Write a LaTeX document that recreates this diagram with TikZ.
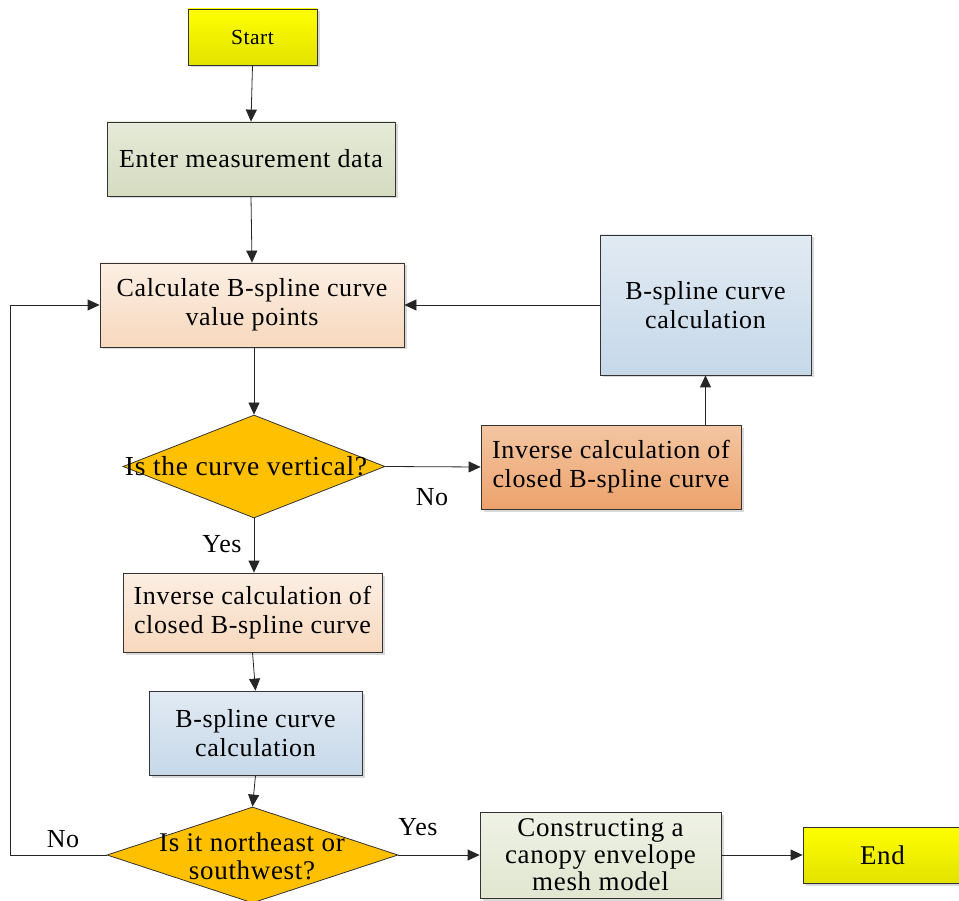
\documentclass[tikz,border=0pt]{standalone}
\usepackage{fontspec}
\setmainfont[LetterSpace=2.5]{Liberation Serif}
\usetikzlibrary{shapes.geometric,arrows.meta,shadows}
\definecolor{yelT}{HTML}{FFFF00}
\definecolor{yelB}{HTML}{E2E200}
\definecolor{grnT}{HTML}{E6EAD8}
\definecolor{grnB}{HTML}{D5DCC0}
\definecolor{pchT}{HTML}{FCEFE4}
\definecolor{pchB}{HTML}{F7D8BD}
\definecolor{bluT}{HTML}{E1EAF3}
\definecolor{bluB}{HTML}{C6D8E9}
\definecolor{orgT}{HTML}{F3C6A2}
\definecolor{orgB}{HTML}{EDA26C}
\definecolor{lgT}{HTML}{EFF2E6}
\definecolor{lgB}{HTML}{E0E6D0}
\definecolor{dia}{HTML}{FFC000}
\begin{document}
\begin{tikzpicture}[x=1pt,y=-1pt,
  box/.style={rectangle, draw=black!80, line width=0.8pt, inner sep=0pt, align=center,
    font=\fontsize{26}{29}\selectfont,
    drop shadow={shadow xshift=2.5pt, shadow yshift=-2.5pt, fill=black!15, opacity=1}},
  yelbox/.style={box, top color=yelT, bottom color=yelB},
  grnbox/.style={box, top color=grnT, bottom color=grnB},
  pchbox/.style={box, top color=pchT, bottom color=pchB},
  blubox/.style={box, top color=bluT, bottom color=bluB},
  orgbox/.style={box, top color=orgT, bottom color=orgB},
  lgbox/.style={box, top color=lgT, bottom color=lgB},
  dec/.style={diamond, draw=black!80, line width=0.8pt, fill=dia, inner sep=0pt},
  dtext/.style={align=center, inner sep=0pt},
  lbl/.style={inner sep=0pt, font=\fontsize{26}{29}\selectfont},
  arr/.style={draw=black!85, line width=0.8pt, -{Triangle[length=12pt,width=11pt]}},
  ln/.style={draw=black!85, line width=0.8pt}
]
\useasboundingbox (0,0) rectangle (959,901);

\node[yelbox, minimum width=129, minimum height=56, font=\fontsize{21.5}{24}\selectfont] (start) at (252.5,37) {Start};
\node[grnbox, minimum width=288, minimum height=74] (enter) at (251,159) {Enter measurement data};
\node[pchbox, minimum width=304, minimum height=84] (calc) at (252,305) {Calculate B-spline curve\\value points};
\node[blubox, minimum width=211, minimum height=140] (br) at (705.5,305) {B-spline curve\\calculation};
\node[dec, minimum width=262, minimum height=103] (d1) at (254,466.5) {};
\node[dtext, font=\fontsize{27.5}{29}\selectfont] (d1t) at (246,466) {Is the curve vertical?};
\node[orgbox, minimum width=260, minimum height=84] (ir) at (611,467) {Inverse calculation of\\closed B-spline curve};
\node[pchbox, minimum width=259, minimum height=79] (il) at (252.5,612.5) {Inverse calculation of\\closed B-spline curve};
\node[blubox, minimum width=213, minimum height=84] (bl) at (255.5,733) {B-spline curve\\calculation};
\node[dec, minimum width=291, minimum height=96] (d2) at (252.5,855) {};
\node[dtext, font=\fontsize{27}{28}\selectfont] (d2t) at (252,856) {Is it northeast or\\southwest?};
\node[lgbox, minimum width=241, minimum height=86, font=\fontsize{27}{27}\selectfont] (con) at (600.5,855) {Constructing a\\canopy envelope\\mesh model};
\node[yelbox, minimum width=159, minimum height=56, font=\fontsize{27}{29}\selectfont] (end) at (882.5,855) {End};

\node[lbl] (no1) at (432,497) {No};
\node[lbl] (yes1) at (222,544) {Yes};
\node[lbl] (no2) at (63,839) {No};
\node[lbl] (yes2) at (418,827) {Yes};

\coordinate (lp) at (10,855);

\draw[arr] (start.south) -- (enter.north);
\draw[arr] (enter.south) -- (calc.north);
\draw[arr] (d1.north |- calc.south) -- (d1.north);
\draw[arr] (d1.east) -- (ir.west);
\draw[arr] (br.south |- ir.north) -- (br.south);
\draw[arr] (br.west) -- (calc.east);
\draw[arr] (d1.south) -- (d1.south |- il.north);
\draw[arr] (il.south) -- (bl.north);
\draw[arr] (bl.south) -- (d2.north);
\draw[arr] (d2.east) -- (con.west);
\draw[arr] (con.east) -- (end.west);
\draw[arr] (d2.west) -- (lp) |- (calc.west);
\end{tikzpicture}
\end{document}
